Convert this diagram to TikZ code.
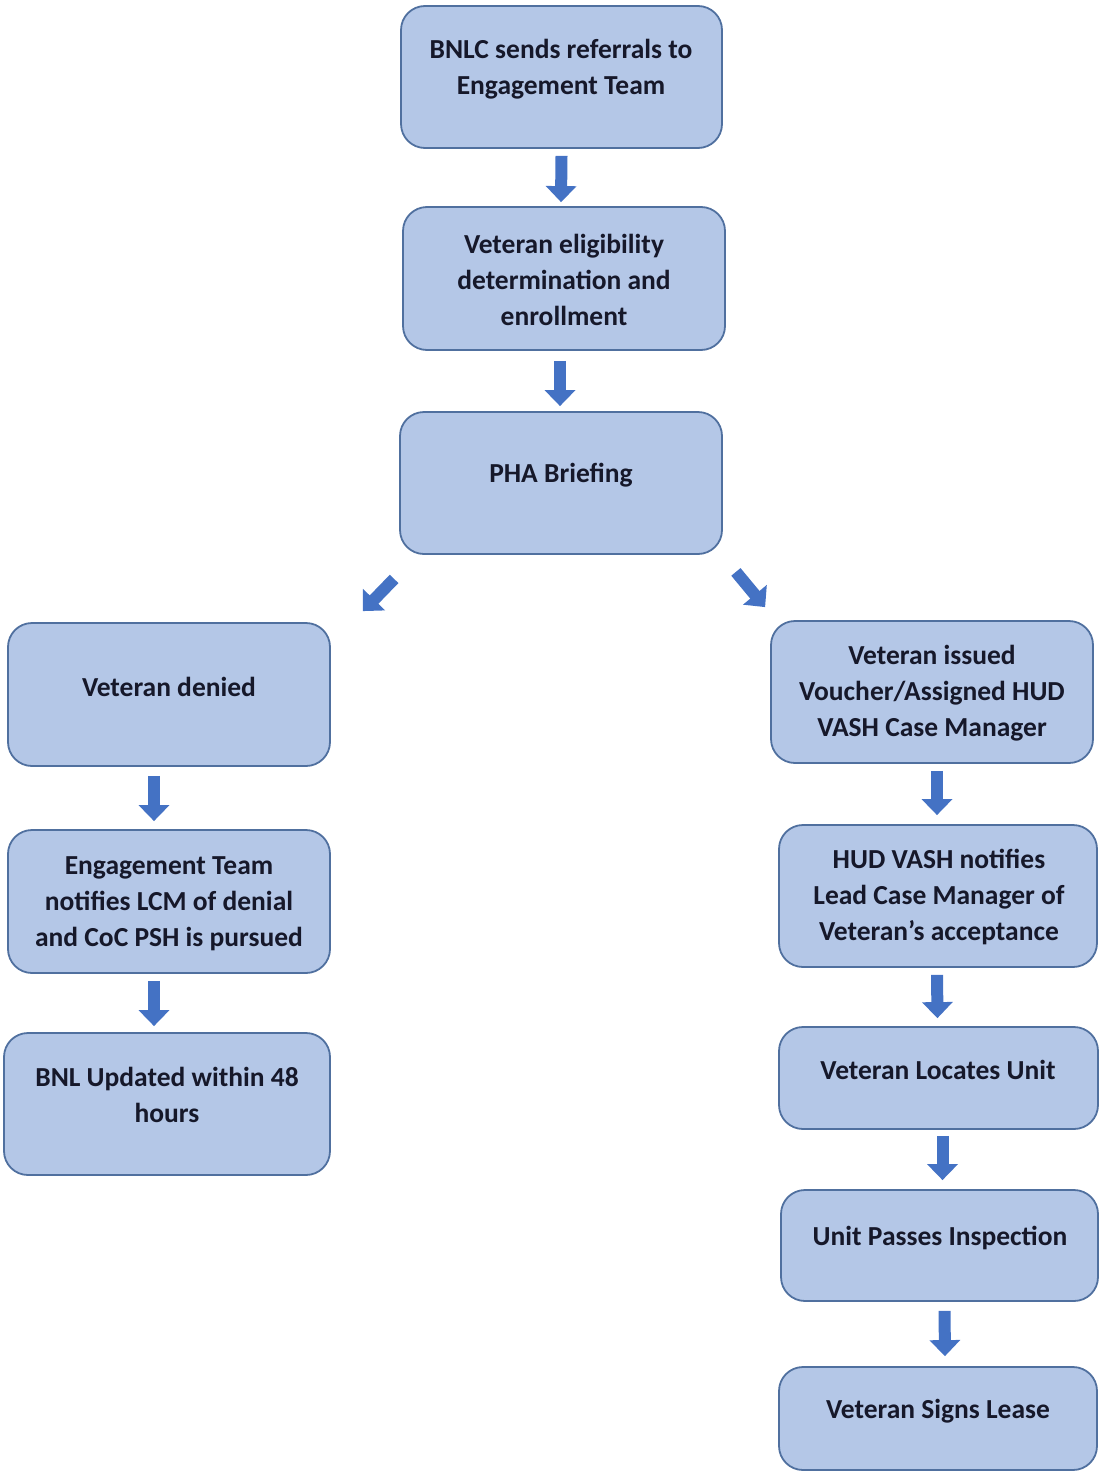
\documentclass[tikz,border=0pt]{standalone}
\usepackage{fontspec}
\setmainfont{Carlito}
\usetikzlibrary{arrows.meta,calc}
\definecolor{boxfill}{HTML}{B4C7E7}
\definecolor{boxline}{HTML}{50709F}
\definecolor{arrowfill}{HTML}{4472C4}
\definecolor{txtcol}{HTML}{16182A}
\tikzset{
  box/.style={draw=boxline, line width=1.8pt, fill=boxfill, rounded corners=24pt, inner sep=0pt},
  txt/.style={text=txtcol, font=\fontsize{27.5}{36}\selectfont\bfseries, align=center, inner sep=0pt, yshift=-2pt},
  blockarrow/.style={draw=arrowfill, line width=12pt, -{Triangle[width=30pt,length=16pt]}, arrowfill}
}
\begin{document}
\begin{tikzpicture}[x=1pt,y=-1pt]
\useasboundingbox (0,0) rectangle (1099,1472);
% boxes
\node[box, minimum width=321pt, minimum height=142pt] (b1) at (561.5,77) {};
\node[box, minimum width=322pt, minimum height=143pt] (b2) at (564,278.5) {};
\node[box, minimum width=322pt, minimum height=142pt] (b3) at (561,483) {};
\node[box, minimum width=322pt, minimum height=143pt] (b4) at (169,694.5) {};
\node[box, minimum width=322pt, minimum height=143pt] (b5) at (169,901.5) {};
\node[box, minimum width=326pt, minimum height=142pt] (b6) at (167,1104) {};
\node[box, minimum width=322pt, minimum height=142pt] (b7) at (932,692) {};
\node[box, minimum width=318pt, minimum height=142pt] (b8) at (938,896) {};
\node[box, minimum width=319pt, minimum height=102pt] (b9) at (938.5,1078) {};
\node[box, minimum width=317pt, minimum height=111pt] (b10) at (939.5,1245.5) {};
\node[box, minimum width=318pt, minimum height=103pt] (b11) at (938,1418.5) {};
% texts
\node[txt] (t1) at (561,67) {BNLC sends referrals to\\Engagement Team};
\node[txt] (t2) at (564,278) {Veteran eligibility\\determination and\\enrollment};
\node[txt] (t3) at (561,473) {PHA Briefing};
\node[txt] (t4) at (169,685) {Veteran denied};
\node[txt] (t5) at (169,902) {Engagement Team\\notifies LCM of denial\\and CoC PSH is pursued};
\node[txt] (t6) at (167,1093) {BNL Updated within 48\\hours};
\node[txt] (t7) at (932,691) {Veteran issued\\Voucher/Assigned HUD\\VASH Case Manager};
\node[txt] (t8) at (939,895) {HUD VASH notifies\\Lead Case Manager of\\Veteran’s acceptance};
\node[txt] (t9) at (938,1068) {Veteran Locates Unit};
\node[txt] (t10) at (940,1236) {Unit Passes Inspection};
\node[txt] (t11) at (938,1409) {Veteran Signs Lease};
% connectors
\draw[blockarrow] ($(b1.south)+(0,7)$) -- ($(b2.north)+(-3,-4)$);
\draw[blockarrow] ($(b2.south)+(-4,10)$) -- ($(b3.north)+(-1,-5)$);
\draw[blockarrow] ($(b3.south west)+(-5,24)$) -- ($(b4.north east)+(32,-11)$);
\draw[blockarrow] ($(b3.south east)+(13,17)$) -- ($(b7.north west)+(-5,-13)$);
\draw[blockarrow] ($(b4.south)+(-15,9)$) -- ($(b5.north)+(-15,-8)$);
\draw[blockarrow] ($(b5.south)+(-15,7)$) -- ($(b6.north)+(-13,-6)$);
\draw[blockarrow] ($(b7.south)+(5,7)$) -- ($(b8.north)+(-1,-9)$);
\draw[blockarrow] ($(b8.south)+(-1,7)$) -- ($(b9.north)+(-1,-8)$);
\draw[blockarrow] ($(b9.south)+(4,6)$) -- ($(b10.north)+(3,-9)$);
\draw[blockarrow] ($(b10.south)+(5,9)$) -- ($(b11.north)+(7,-10)$);
\end{tikzpicture}
\end{document}
